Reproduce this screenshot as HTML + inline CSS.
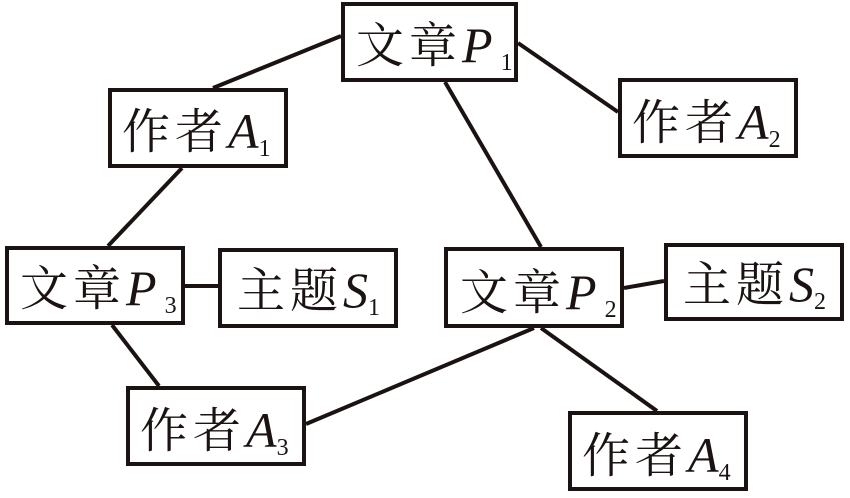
<!DOCTYPE html>
<html><head><meta charset="utf-8"><style>
html,body{margin:0;padding:0;background:#fff;}
svg{display:block}
text{font-family:"Liberation Serif","Noto Serif CJK SC","Noto Serif CJK JP",serif;font-size:48px;fill:#1a1311;}
.c{font-family:"Noto Serif CJK SC","Noto Serif CJK JP",serif;letter-spacing:5px;}
.i{font-style:italic;font-family:"Liberation Serif",serif;font-size:50px;}
.s{font-family:"Liberation Serif",serif;font-size:24px;}
</style></head><body>
<svg width="850" height="498" viewBox="0 0 850 498">
<g stroke="#1a1311" stroke-width="4" fill="none">
<line x1="341" y1="36" x2="213" y2="88"/>
<line x1="182" y1="168" x2="108" y2="246"/>
<line x1="518" y1="43" x2="618" y2="112"/>
<line x1="445" y1="82" x2="541" y2="247"/>
<line x1="185" y1="286" x2="218" y2="286"/>
<line x1="112" y1="325" x2="159" y2="386"/>
<line x1="306" y1="424" x2="534" y2="328"/>
<line x1="541" y1="328" x2="657" y2="411"/>
<line x1="624" y1="288" x2="664" y2="281"/>
<rect x="343" y="4" width="173" height="76" fill="#fff"/>
<rect x="110" y="90" width="176" height="76" fill="#fff"/>
<rect x="620" y="80" width="176" height="76" fill="#fff"/>
<rect x="7" y="248" width="176" height="75" fill="#fff"/>
<rect x="220" y="250" width="176" height="76" fill="#fff"/>
<rect x="128" y="388" width="176" height="76" fill="#fff"/>
<rect x="446" y="249" width="176" height="77" fill="#fff"/>
<rect x="666" y="245" width="176" height="74" fill="#fff"/>
<rect x="570" y="413" width="176" height="76" fill="#fff"/>
</g>
<text x="356" y="62"><tspan class="c">文章</tspan><tspan class="i">P</tspan><tspan class="s" dx="8" dy="8">1</tspan></text>
<text x="122" y="148"><tspan class="c">作者</tspan><tspan class="i">A</tspan><tspan class="s" dy="8">1</tspan></text>
<text x="632" y="139"><tspan class="c">作者</tspan><tspan class="i">A</tspan><tspan class="s" dy="8">2</tspan></text>
<text x="20" y="305"><tspan class="c">文章</tspan><tspan class="i">P</tspan><tspan class="s" dx="8" dy="8">3</tspan></text>
<text x="237" y="307"><tspan class="c">主题</tspan><tspan class="i">S</tspan><tspan class="s" dy="8">1</tspan></text>
<text x="140" y="447"><tspan class="c">作者</tspan><tspan class="i">A</tspan><tspan class="s" dy="8">3</tspan></text>
<text x="460" y="309"><tspan class="c">文章</tspan><tspan class="i">P</tspan><tspan class="s" dx="8" dy="8">2</tspan></text>
<text x="683" y="301"><tspan class="c">主题</tspan><tspan class="i">S</tspan><tspan class="s" dy="8">2</tspan></text>
<text x="582" y="472"><tspan class="c">作者</tspan><tspan class="i">A</tspan><tspan class="s" dy="8">4</tspan></text>
</svg>
</body></html>
